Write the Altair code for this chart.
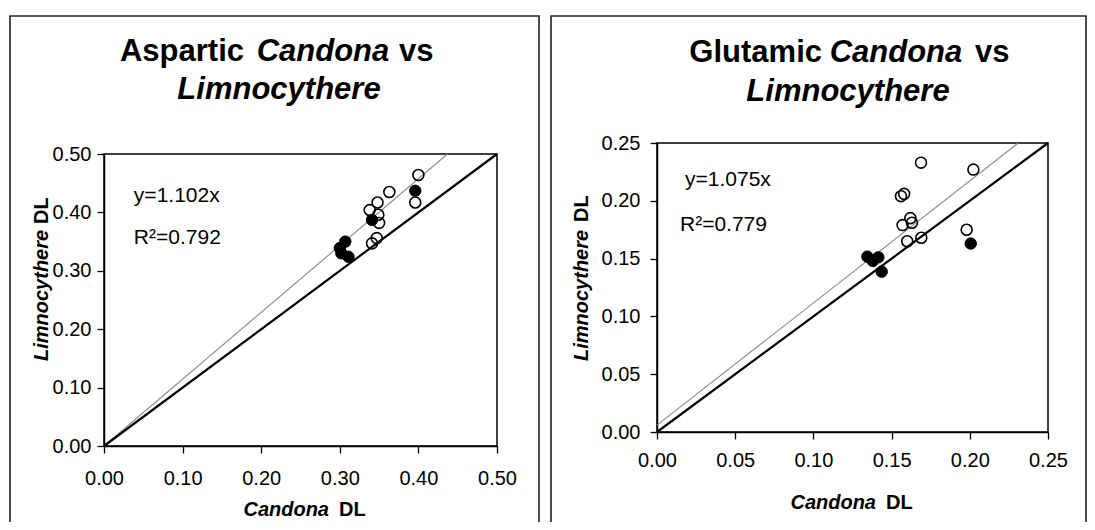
import altair as alt
import pandas as pd

FONT = "Liberation Sans"
W, H = 1079, 514

# ---------------- data ----------------
# Aspartic panel
asp_ticks = [0.0, 0.1, 0.2, 0.3, 0.4, 0.5]
asp_open_x = [0.400, 0.363, 0.396, 0.348, 0.338, 0.349, 0.350, 0.347, 0.341]
asp_open_y = [0.464, 0.435, 0.417, 0.417, 0.404, 0.396, 0.382, 0.356, 0.347]
asp_fill_x = [0.396, 0.341, 0.307, 0.300, 0.302, 0.311]
asp_fill_y = [0.437, 0.387, 0.350, 0.339, 0.330, 0.324]
asp_fit_x = [0.0, 0.437]
asp_fit_y = [0.0, 0.5]
asp_eq = "y=1.102x"
asp_r2 = "R\u00b2=0.792"

# Glutamic panel
glu_ticks = [0.0, 0.05, 0.10, 0.15, 0.20, 0.25]
glu_open_x = [0.1688, 0.2023, 0.1560, 0.1580, 0.1620, 0.1570, 0.1630, 0.1600, 0.1690, 0.1980]
glu_open_y = [0.2330, 0.2270, 0.2040, 0.2060, 0.1850, 0.1790, 0.1810, 0.1650, 0.1680, 0.1750]
glu_fill_x = [0.2006, 0.1345, 0.1415, 0.1380, 0.1437]
glu_fill_y = [0.1630, 0.1517, 0.1511, 0.1480, 0.1387]
glu_fit_x = [0.0, 0.231]
glu_fit_y = [0.006, 0.25]
glu_eq = "y=1.075x"
glu_r2 = "R\u00b2=0.779"


def panel(dom, ticks, xr, yr, xoff, yoff, xpad, ypad,
          open_x, open_y, fill_x, fill_y, fit_x, fit_y,
          eq, r2, eq_pos, r2_pos,
          frame, title1, title2, xtitle, ytitle):
    xs = alt.Scale(domain=dom, range=xr, nice=False, zero=False)
    ys = alt.Scale(domain=dom, range=yr, nice=False, zero=False)
    common = dict(title=None, grid=False, values=ticks, format=".2f",
                  domainColor="black", domainWidth=1.5, tickColor="black",
                  tickSize=7, tickWidth=1.3, labelFont=FONT, labelFontSize=20,
                  labelColor="black", labelFlush=False, labelOverlap=False,
                  labelBound=False)
    xaxis = alt.Axis(orient="bottom", offset=xoff, labelPadding=xpad, **common)
    yaxis = alt.Axis(orient="left", offset=yoff, labelPadding=ypad, **common)

    def X(f="x"):
        return alt.X(f, type="quantitative", scale=xs, axis=xaxis)

    def Y(f="y"):
        return alt.Y(f, type="quantitative", scale=ys, axis=yaxis)

    box = alt.Chart(pd.DataFrame({"x": [dom[0]], "x2": [dom[1]], "y": [dom[0]], "y2": [dom[1]]})).mark_rect(
        fill=None, stroke="black", strokeWidth=1.5
    ).encode(x=X(), x2="x2", y=Y(), y2="y2")

    one = alt.Chart(pd.DataFrame({"x": dom, "y": dom})).mark_line(
        color="black", strokeWidth=2.2).encode(x=X(), y=Y())
    fit = alt.Chart(pd.DataFrame({"x": fit_x, "y": fit_y})).mark_line(
        color="#8a8a8a", strokeWidth=1.1).encode(x=X(), y=Y())

    opn = alt.Chart(pd.DataFrame({"x": open_x, "y": open_y})).mark_point(
        shape="circle", filled=False, stroke="black", strokeWidth=1.6, size=120, opacity=1
    ).encode(x=X(), y=Y())
    fil = alt.Chart(pd.DataFrame({"x": fill_x, "y": fill_y})).mark_point(
        shape="circle", filled=True, fill="black", stroke="black", strokeWidth=1, size=130, opacity=1
    ).encode(x=X(), y=Y())

    ann = alt.Chart(pd.DataFrame({"x": [eq_pos[0], r2_pos[0]], "y": [eq_pos[1], r2_pos[1]],
                                  "t": [eq, r2]})).mark_text(
        align="left", baseline="middle", font=FONT, fontSize=21, color="black"
    ).encode(x=X(), y=Y(), text="t:N")

    layers = [box, fit, one, opn, fil, ann]

    # panel frame
    fx0, fx1, fy0 = frame
    layers.append(alt.Chart(pd.DataFrame({"a": [0]})).mark_rect(
        fill=None, stroke="#222", strokeWidth=1.6
    ).encode(x=alt.value(fx0), x2=alt.value(fx1), y=alt.value(fy0), y2=alt.value(H + 40)))

    # titles (mixed italic pieces)
    for txt, px, py, al, it, fs in title1 + title2 + xtitle:
        layers.append(alt.Chart(pd.DataFrame({"a": [0]})).mark_text(
            text=txt, align=al, baseline="middle", font=FONT, fontSize=fs,
            fontWeight="bold", fontStyle="italic" if it else "normal", color="black"
        ).encode(x=alt.value(px), y=alt.value(py)))
    for txt, px, py, it in ytitle:
        layers.append(alt.Chart(pd.DataFrame({"a": [0]})).mark_text(
            text=txt, align="left", baseline="middle", angle=270, font=FONT, fontSize=20,
            fontWeight="bold", fontStyle="italic" if it else "normal", color="black"
        ).encode(x=alt.value(px), y=alt.value(py)))
    return alt.layer(*layers)


left = panel(
    dom=[0.0, 0.5], ticks=asp_ticks, xr=[96, 489], yr=[438, 146],
    xoff=438 - H, yoff=-96, xpad=15, ypad=6,
    open_x=asp_open_x, open_y=asp_open_y, fill_x=asp_fill_x, fill_y=asp_fill_y,
    fit_x=asp_fit_x, fit_y=asp_fit_y, eq=asp_eq, r2=asp_r2,
    eq_pos=(0.038, 0.428), r2_pos=(0.038, 0.356),
    frame=(2, 531, 8),
    title1=[("Aspartic", 236, 44, "right", False, 31),
            ("Candona", 315, 44, "center", True, 31),
            ("vs", 391, 44, "left", False, 31)],
    title2=[("Limnocythere", 271, 82, "center", True, 31)],
    xtitle=[("Candona", 321, 502, "right", True, 20),
            ("DL", 331, 502, "left", False, 20)],
    ytitle=[("Limnocythere", 34, 353, True), ("DL", 34, 216, False)],
)

right = panel(
    dom=[0.0, 0.25], ticks=glu_ticks, xr=[649, 1040], yr=[424, 135],
    xoff=424 - H, yoff=-649, xpad=11, ypad=10,
    open_x=glu_open_x, open_y=glu_open_y, fill_x=glu_fill_x, fill_y=glu_fill_y,
    fit_x=glu_fit_x, fit_y=glu_fit_y, eq=glu_eq, r2=glu_r2,
    eq_pos=(0.0179, 0.218), r2_pos=(0.0147, 0.179),
    frame=(543, 1078, 8),
    title1=[("Glutamic", 814, 45, "right", False, 31),
            ("Candona", 888, 45, "center", True, 31),
            ("vs", 967, 45, "left", False, 31)],
    title2=[("Limnocythere", 840, 84, "center", True, 31)],
    xtitle=[("Candona", 868, 495, "right", True, 20),
            ("DL", 878, 495, "left", False, 20)],
    ytitle=[("Limnocythere", 574, 353, True), ("DL", 574, 214, False)],
)

chart = alt.layer(left, right).resolve_scale(x="independent", y="independent").properties(
    width=W, height=H, padding=0,
    autosize=alt.AutoSizeParams(type="none"),
    background="white",
).configure_view(stroke=None)

chart.save("out.html", embed_options={"renderer": "svg", "actions": False})
